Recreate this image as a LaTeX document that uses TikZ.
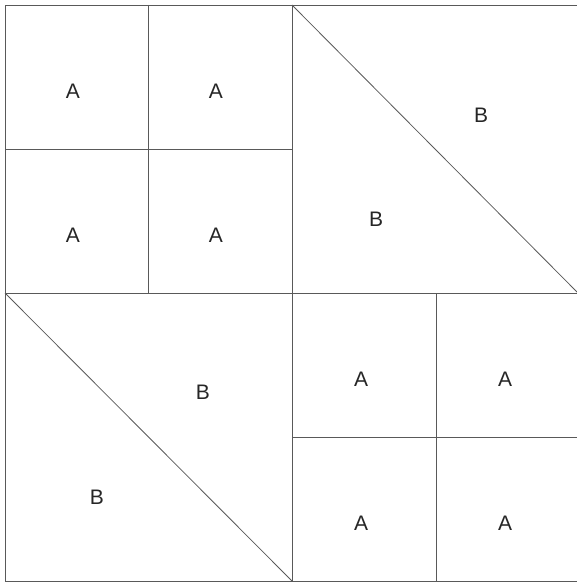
\documentclass[tikz,border=0pt]{standalone}
\usepackage{fontspec}
\setmainfont{Liberation Sans}
\usepackage{tikz}
\usetikzlibrary{calc}

\begin{document}
\begin{tikzpicture}[x=1pt,y=-1pt,
    seam/.style={draw=black!65,line width=0.8pt},
    patch/.style={font=\fontsize{21}{25}\selectfont,text=black!85}]
    \useasboundingbox (0,0) rectangle (577,583);
    % outer block and centre cross
    \coordinate (tl) at (5,5);
    \coordinate (br) at (578,581);
    \coordinate (mid) at (292,293);
    \draw[seam] (tl) rectangle (br);
    \draw[seam] (tl -| mid) -- (br -| mid);
    \draw[seam] (tl |- mid) -- (br |- mid);
    % four-patch, top left
    \draw[seam] (148,5) -- (148,293);
    \draw[seam] (5,149) -- (292,149);
    % four-patch, bottom right
    \draw[seam] (436,293) -- (436,581);
    \draw[seam] (292,437) -- (578,437);
    % half-square triangles
    \draw[seam] (tl -| mid) -- (578,293);
    \draw[seam] (tl |- mid) -- (br -| mid);
    % labels
    \node[patch] (a1) at (73,91) {A};
    \node[patch] (a2) at (216,91) {A};
    \node[patch] (a3) at (73,235) {A};
    \node[patch] (a4) at (216,235) {A};
    \node[patch] (b1) at (481,115) {B};
    \node[patch] (b2) at (376,219) {B};
    \node[patch] (b3) at (203,392) {B};
    \node[patch] (b4) at (97,497) {B};
    \node[patch] (a5) at (361,379) {A};
    \node[patch] (a6) at (505,379) {A};
    \node[patch] (a7) at (361,523) {A};
    \node[patch] (a8) at (505,523) {A};
\end{tikzpicture}
\end{document}
